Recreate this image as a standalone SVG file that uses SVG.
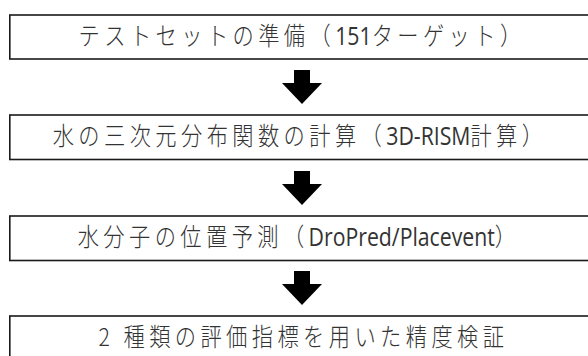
<svg xmlns="http://www.w3.org/2000/svg" width="588" height="356" viewBox="0 0 588 356">
<style>
.box{fill:#fff;stroke:#1a1a1a;stroke-width:1.6}
.t{font-family:"Noto Sans CJK JP","Noto Sans",sans-serif;font-size:25px;font-weight:300;fill:#333;letter-spacing:5.2px}
.l{font-family:"Open Sans","Liberation Sans",sans-serif;font-size:25px;font-weight:400;letter-spacing:0}
.arr{fill:#000}
</style>
<rect width="588" height="356" fill="#fff"/>
<g id="n1">
<rect class="box" x="9.8" y="15" width="600" height="44"/>
<text class="t" transform="scale(0.85,1)" x="92.5" y="45">テストセットの準備（<tspan class="l">151</tspan>ターゲット）</text>
</g>
<g id="n2">
<rect class="box" x="9.8" y="115" width="600" height="44.5"/>
<text class="t" transform="scale(0.85,1)" x="62" y="145">水の三次元分布関数の計算（<tspan class="l">3D-RISM</tspan>計算）</text>
</g>
<g id="n3">
<rect class="box" x="9.8" y="216" width="600" height="44.5"/>
<text class="t" transform="scale(0.85,1)" x="91.4" y="246">水分子の位置予測（<tspan class="l">DroPred/Placevent</tspan>）</text>
</g>
<g id="n4">
<rect class="box" x="9.8" y="316" width="600" height="50"/>
<text class="t" transform="scale(0.85,1)" x="116" y="346">2 種類の評価指標を用いた精度検証</text>
</g>
<g id="connectors">
<polygon class="arr" points="294,70 310,70 310,83 322,83 302,104 282,83 294,83"/>
<polygon class="arr" points="294,171 310,171 310,184 322,184 302,205 282,184 294,184"/>
<polygon class="arr" points="294,271 310,271 310,284 322,284 302,305 282,284 294,284"/>
</g>
</svg>
